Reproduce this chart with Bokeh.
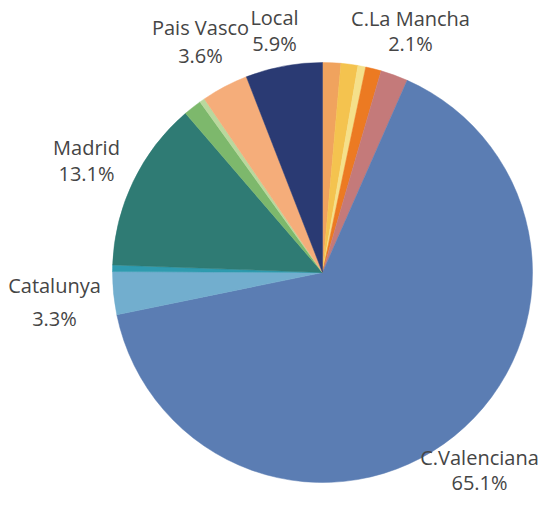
import math
from bokeh.plotting import figure
from bokeh.models import Range1d, ColumnDataSource
from bokeh.core.properties import value
from bokeh.embed import file_html
from bokeh.resources import INLINE

# Data (clockwise from 12 o'clock)
regions = ["r1", "r2", "r3", "r4", "C.La Mancha", "C.Valenciana", "Catalunya",
           "r8", "Madrid", "r10", "r11", "Pais Vasco", "Local"]
shares = [1.4, 1.3, 0.6, 1.2, 2.1, 65.1, 3.3, 0.5, 13.1, 1.4, 0.4, 3.6, 5.9]
colors = ["#F0A35E", "#F4C34F", "#F5E08A", "#EC7A22", "#C47A7A", "#5B7DB3",
          "#72AECE", "#2F9BAF", "#2F7B74", "#7DB86C", "#B9D89D", "#F5AD7A", "#2A3A73"]

label_names = ["Pais Vasco", "Local", "C.La Mancha", "Madrid", "Catalunya", "C.Valenciana"]
label_pcts = ["3.6%", "5.9%", "2.1%", "13.1%", "3.3%", "65.1%"]

# Layout (picture pixel coordinates, origin at figure top-left)
W, H = 542, 497
cx, cy, r = 322, 272, 210
name_pos = [(200, 27), (274, 17), (410, 18), (86, 147), (54, 285), (479, 457)]
pct_pos = [(200, 55), (274, 43), (410, 43), (86, 173), (54, 318), (479, 482)]

total = sum(shares)
starts, ends = [], []
acc = 0.0
for s in shares:
    c0 = acc / total
    acc += s
    c1 = acc / total
    starts.append(math.pi / 2 - 2 * math.pi * c1)
    ends.append(math.pi / 2 - 2 * math.pi * c0)

src = ColumnDataSource(dict(region=regions, share=shares, color=colors,
                            start=starts, end=ends))

p = figure(width=W, height=H, output_backend="svg", toolbar_location=None,
           x_range=Range1d(0, W), y_range=Range1d(0, H),
           x_axis_location=None, y_axis_location=None, min_border=0)
p.grid.visible = False
p.outline_line_color = None
p.background_fill_color = "white"
p.border_fill_color = "white"

def py(y):
    return H - y

p.wedge(x=cx, y=py(cy), radius=r, start_angle="start", end_angle="end",
        direction="anticlock", fill_color="color", line_color="color",
        line_width=0.5, source=src)

p.text(x=[q[0] for q in name_pos], y=[py(q[1]) for q in name_pos], text=label_names,
       text_font=value("Open Sans"), text_font_size="20px", text_color="#454545",
       text_align="center", text_baseline="middle")
p.text(x=[q[0] for q in pct_pos], y=[py(q[1]) for q in pct_pos], text=label_pcts,
       text_font=value("Open Sans"), text_font_size="20px", text_color="#454545",
       text_align="center", text_baseline="middle")

open("out.html", "w").write(file_html(p, INLINE))
